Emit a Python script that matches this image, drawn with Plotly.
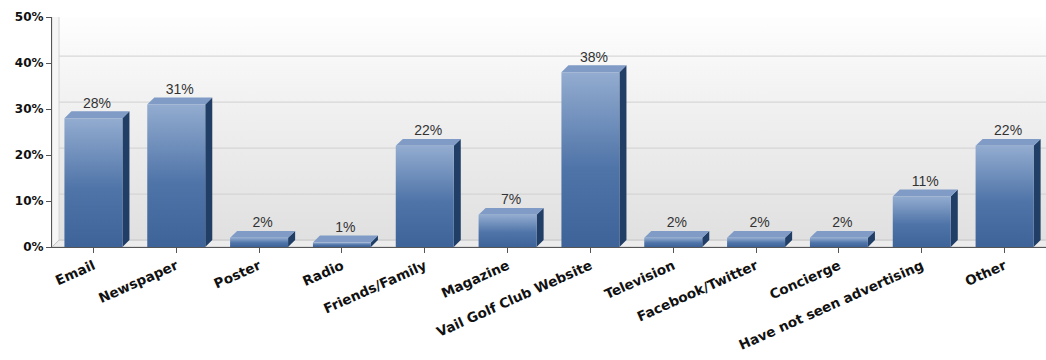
import plotly.graph_objects as go

categories = ["Email", "Newspaper", "Poster", "Radio", "Friends/Family", "Magazine",
              "Vail Golf Club Website", "Television", "Facebook/Twitter", "Concierge",
              "Have not seen advertising", "Other"]
values = [28, 31, 2, 1, 22, 7, 38, 2, 2, 2, 11, 22]
y_ticks = [0, 10, 20, 30, 40, 50]
y_ticktext = ["0%", "10%", "20%", "30%", "40%", "50%"]

HALF = 0.35    # half of the bar's front-face width, in category units
DX = 0.085     # depth offset of the 3D extrusion along x
DY = 1.5       # depth offset of the 3D extrusion along y (percent units)
X0, X1 = -0.5, len(categories) - 0.5
YMAX = 50

fig = go.Figure()


def poly(xs, ys, color=None, line_color="rgba(0,0,0,0)", line_width=0, gradient=None):
    kw = dict(x=xs, y=ys, mode="lines", fill="toself",
              line=dict(color=line_color, width=line_width),
              hoverinfo="skip", showlegend=False)
    if gradient is not None:
        kw["fillgradient"] = gradient
    else:
        kw["fillcolor"] = color
    fig.add_trace(go.Scatter(**kw))


# back wall with a soft vertical gradient
poly([X0 + DX, X1 + DX, X1 + DX, X0 + DX, X0 + DX],
     [DY, DY, YMAX + DY, YMAX + DY, DY],
     gradient=dict(type="vertical", start=DY, stop=YMAX + DY,
                   colorscale=[[0, "#e0e0e0"], [0.6, "#f1f1f1"], [1, "#ffffff"]]))

# left wall
poly([X0, X0 + DX, X0 + DX, X0, X0], [0, DY, YMAX + DY, YMAX, 0],
     color="#f6f6f6", line_color="#d4d4d4", line_width=1)

# floor
poly([X0, X1 + DX, X1 + DX, X0 + DX, X0], [0, 0, DY, DY, 0],
     color="#ececec", line_color="#c4c4c4", line_width=1)

# gridlines on the back wall
gx, gy = [], []
for t in y_ticks[1:-1]:
    gx += [X0 + DX, X1 + DX, None]
    gy += [t + DY, t + DY, None]
fig.add_trace(go.Scatter(x=gx, y=gy, mode="lines",
                         line=dict(color="#d0d0d0", width=1),
                         hoverinfo="skip", showlegend=False))

# extruded bars: side, top and gradient front face
for i, v in enumerate(values):
    l, r = i - HALF, i + HALF
    poly([r, r + DX, r + DX, r, r], [0, DY, v + DY, v, 0], color="#213e66")
    poly([l, r, r + DX, l + DX, l], [v, v, v + DY, v + DY, v], color="#7f9bc6")
    poly([l, r, r, l, l], [0, 0, v, v, 0],
         gradient=dict(type="vertical", start=0, stop=v,
                       colorscale=[[0, "#3e6399"], [0.45, "#4f74a8"], [1, "#93acd0"]]))

# value labels above each bar
fig.add_trace(go.Scatter(
    x=[i + DX / 2 for i in range(len(values))],
    y=[v + DY for v in values],
    mode="text",
    text=[f"{v}%" for v in values],
    textposition="top center",
    textfont=dict(family="Liberation Sans, Arial, sans-serif", size=14, color="#333333"),
    hoverinfo="skip", showlegend=False, cliponaxis=False))

fig.update_layout(
    width=1046, height=360,
    margin=dict(l=52, r=0, t=17, b=113),
    paper_bgcolor="white", plot_bgcolor="white",
    showlegend=False,
    xaxis=dict(range=[X0, X1], tickmode="array",
               tickvals=list(range(len(categories))), ticktext=categories,
               tickangle=-24, showgrid=False, zeroline=False,
               showline=True, linecolor="#555555", linewidth=1,
               ticks="outside", ticklen=5, tickcolor="#555555",
               tickfont=dict(family="DejaVu Sans, Verdana, sans-serif", size=13.5,
                             color="#111111", weight="bold")),
    yaxis=dict(range=[0, YMAX], tickmode="array", tickvals=y_ticks, ticktext=y_ticktext,
               showgrid=False, zeroline=False,
               showline=True, linecolor="#555555", linewidth=1,
               ticks="outside", ticklen=5, tickcolor="#555555",
               tickfont=dict(family="DejaVu Sans, Verdana, sans-serif", size=12,
                             color="#111111", weight="bold")),
)

fig.write_html("out.html")
